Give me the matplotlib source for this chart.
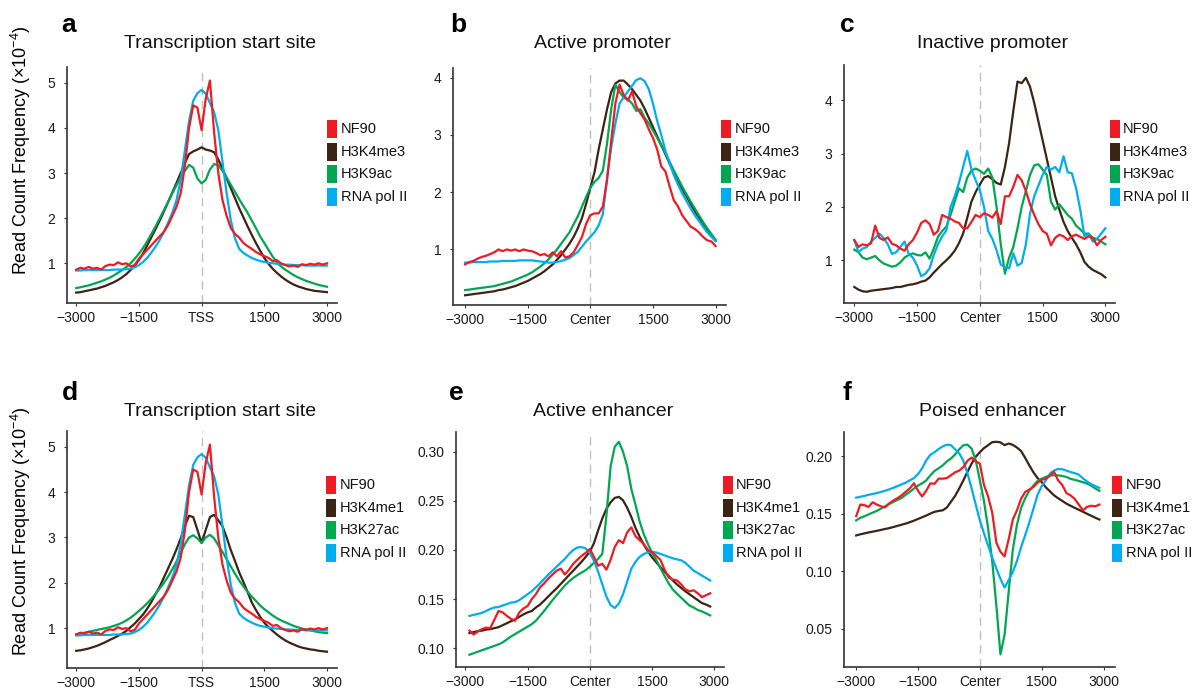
'''Aggregate read-count profiles of NF90 and chromatin marks around TSS, promoters and enhancers (panels a-f).'''

import numpy as np
import matplotlib
matplotlib.use('Agg')
import matplotlib.pyplot as plt
from matplotlib.patches import Rectangle

plt.rcParams['font.family'] = 'Liberation Sans'
plt.rcParams['mathtext.fontset'] = 'custom'
plt.rcParams['mathtext.rm'] = 'Liberation Sans'
plt.rcParams['mathtext.it'] = 'Liberation Sans:italic'
plt.rcParams['mathtext.bf'] = 'Liberation Sans:bold'

# ---- data -----------------------------------------------------------------
# bin centres (bp from TSS / centre)
x_prom = np.arange(-3000, 3001, 100)     # panels a-d
x_enh = np.arange(-2900, 2901, 100)      # panel e
x_poised = np.arange(-3000, 2901, 100)   # panel f

# a / d : transcription start site (x1e-4)
tss_nf90 = [0.86, 0.90, 0.88, 0.92, 0.88, 0.90, 0.86, 0.94, 0.97, 0.96,
            1.02, 0.98, 1.00, 0.93, 0.96, 1.10, 1.20, 1.30, 1.40, 1.50,
            1.60, 1.70, 1.85, 2.05, 2.25, 2.55, 3.15, 4.00, 4.50, 4.45,
            3.95,
            4.65, 5.05, 3.90, 3.00, 2.40, 2.05, 1.78, 1.65, 1.57, 1.45,
            1.38, 1.32, 1.25, 1.20, 1.16, 1.12, 1.05, 1.07, 1.00, 0.96,
            0.93, 0.95, 0.92, 0.98, 0.96, 0.99, 0.97, 1.00, 0.97, 1.00]
tss_pol2 = [0.84, 0.84, 0.85, 0.85, 0.85, 0.85, 0.85, 0.85, 0.85, 0.86,
            0.86, 0.86, 0.87, 0.88, 0.91, 0.96, 1.03, 1.12, 1.24, 1.37,
            1.52, 1.70, 1.90, 2.12, 2.40, 2.85, 3.50, 4.15, 4.60, 4.77,
            4.84,
            4.76, 4.55, 4.35, 3.95, 3.25, 2.55, 1.95, 1.55, 1.32, 1.23,
            1.17, 1.12, 1.08, 1.05, 1.03, 1.01, 1.00, 0.99, 0.98, 0.97,
            0.97, 0.96, 0.96, 0.96, 0.95, 0.95, 0.95, 0.95, 0.95, 0.95]
tss_h3k4me3 = [0.35, 0.36, 0.38, 0.40, 0.42, 0.44, 0.47, 0.50, 0.54, 0.58,
               0.63, 0.69, 0.76, 0.85, 0.95, 1.07, 1.22, 1.40, 1.58, 1.76,
               1.95, 2.15, 2.36, 2.57, 2.78, 3.00, 3.22, 3.42, 3.48, 3.52,
               3.57,
               3.52, 3.50, 3.46, 3.30, 3.10, 2.88, 2.66, 2.44, 2.22, 2.02,
               1.82, 1.63, 1.45, 1.28, 1.12, 0.99, 0.88, 0.79, 0.71, 0.64,
               0.58, 0.53, 0.49, 0.46, 0.43, 0.41, 0.39, 0.38, 0.37, 0.36]
tss_h3k9ac = [0.45, 0.47, 0.49, 0.51, 0.54, 0.57, 0.60, 0.64, 0.68, 0.73,
              0.79, 0.85, 0.92, 1.00, 1.10, 1.21, 1.34, 1.49, 1.65, 1.82,
              2.00, 2.18, 2.36, 2.55, 2.73, 2.90, 3.05, 3.18, 3.12, 2.88,
              2.77,
              2.85, 3.08, 3.20, 3.17, 3.05, 2.90, 2.74, 2.58, 2.42, 2.27,
              2.12, 1.95, 1.78, 1.60, 1.45, 1.30, 1.15, 1.02, 0.93, 0.86,
              0.80, 0.74, 0.69, 0.65, 0.61, 0.58, 0.55, 0.52, 0.50, 0.48]
tss_h3k4me1 = [0.50, 0.51, 0.53, 0.55, 0.58, 0.61, 0.65, 0.69, 0.74, 0.78,
               0.83, 0.88, 0.94, 1.02, 1.10, 1.20, 1.30, 1.43, 1.58, 1.75,
               1.92, 2.12, 2.32, 2.52, 2.74, 2.98, 3.25, 3.48, 3.45, 3.17,
               2.88,
               3.17, 3.45, 3.50, 3.38, 3.25, 3.00, 2.72, 2.48, 2.23, 2.02,
               1.80, 1.57, 1.40, 1.25, 1.12, 1.02, 0.94, 0.86, 0.79, 0.73,
               0.68, 0.64, 0.60, 0.57, 0.55, 0.53, 0.52, 0.50, 0.49, 0.48]
tss_h3k27ac = [0.86, 0.88, 0.90, 0.92, 0.94, 0.96, 0.98, 1.00, 1.02, 1.05,
               1.08, 1.12, 1.17, 1.23, 1.30, 1.38, 1.46, 1.55, 1.65, 1.76,
               1.88, 2.00, 2.14, 2.30, 2.47, 2.66, 2.85, 3.00, 3.05, 2.98,
               2.88,
               3.00, 3.06, 2.98, 2.83, 2.68, 2.52, 2.36, 2.20, 2.05, 1.92,
               1.80, 1.70, 1.60, 1.50, 1.42, 1.35, 1.28, 1.22, 1.17, 1.13,
               1.09, 1.05, 1.02, 0.99, 0.97, 0.95, 0.93, 0.91, 0.90, 0.89]

# b : active promoter
act_nf90 = [0.74, 0.78, 0.80, 0.84, 0.87, 0.89, 0.92, 0.95, 1.00, 0.97,
            1.00, 0.98, 1.00, 0.97, 1.00, 0.98, 0.97, 0.94, 0.90, 0.92,
            0.88, 0.95, 0.88, 0.97, 0.86, 0.88, 0.95, 1.08, 1.22, 1.45,
            1.60,
            1.63, 1.63, 1.75, 2.21, 2.90, 3.55, 3.88, 3.70, 3.60, 3.76,
            3.50, 3.38, 3.27, 3.10, 2.95, 2.75, 2.45, 2.36, 2.10, 1.86,
            1.75, 1.60, 1.50, 1.40, 1.36, 1.30, 1.22, 1.16, 1.14, 1.06]
act_h3k4me3 = [0.20, 0.21, 0.22, 0.23, 0.24, 0.25, 0.26, 0.27, 0.29, 0.30,
               0.32, 0.34, 0.36, 0.39, 0.42, 0.45, 0.49, 0.53, 0.57, 0.62,
               0.68, 0.74, 0.82, 0.90, 1.00, 1.10, 1.22, 1.37, 1.55, 1.80,
               2.08,
               2.35, 2.75, 3.10, 3.45, 3.75, 3.90, 3.95, 3.95, 3.88, 3.80,
               3.70, 3.60, 3.46, 3.30, 3.14, 2.98, 2.82, 2.66, 2.50, 2.34,
               2.20, 2.06, 1.93, 1.80, 1.67, 1.56, 1.45, 1.34, 1.24, 1.15]
act_h3k9ac = [0.29, 0.30, 0.31, 0.32, 0.33, 0.34, 0.35, 0.36, 0.38, 0.40,
              0.42, 0.44, 0.47, 0.50, 0.53, 0.56, 0.60, 0.65, 0.70, 0.76,
              0.83, 0.91, 1.00, 1.10, 1.20, 1.30, 1.44, 1.58, 1.75, 1.92,
              2.08,
              2.18, 2.25, 2.38, 2.85, 3.45, 3.88, 3.75, 3.65, 3.62, 3.55,
              3.42, 3.45, 3.30, 3.20, 3.08, 2.95, 2.82, 2.68, 2.53, 2.38,
              2.24, 2.10, 1.97, 1.84, 1.72, 1.60, 1.48, 1.37, 1.27, 1.17]
act_pol2 = [0.77, 0.77, 0.78, 0.78, 0.78, 0.78, 0.79, 0.79, 0.79, 0.80,
            0.80, 0.80, 0.80, 0.81, 0.81, 0.81, 0.81, 0.80, 0.79, 0.78,
            0.77, 0.77, 0.78, 0.80, 0.82, 0.85, 0.90, 0.96, 1.05, 1.14,
            1.22,
            1.30, 1.42, 1.62, 2.25, 2.78, 3.20, 3.55, 3.66, 3.76, 3.86,
            3.96, 3.99, 3.94, 3.80, 3.55, 3.25, 3.00, 2.72, 2.50, 2.30,
            2.13, 1.98, 1.85, 1.72, 1.60, 1.50, 1.40, 1.30, 1.22, 1.15]

# c : inactive promoter
inact_nf90 = [1.38, 1.25, 1.30, 1.28, 1.32, 1.65, 1.42, 1.38, 1.43, 1.31,
              1.28, 1.22, 1.18, 1.30, 1.38, 1.52, 1.70, 1.75, 1.68, 1.48,
              1.55, 1.85, 1.81, 1.78, 1.73, 1.70, 1.60, 1.60, 1.72, 1.85,
              1.81,
              1.88, 1.85, 1.80, 1.92, 1.68, 2.20, 2.20, 2.38, 2.60, 2.50,
              2.30, 2.05, 1.85, 1.68, 1.55, 1.50, 1.28, 1.42, 1.48, 1.45,
              1.38, 1.45, 1.48, 1.44, 1.40, 1.45, 1.42, 1.28, 1.38, 1.44]
inact_h3k4me3 = [0.50, 0.45, 0.42, 0.41, 0.43, 0.44, 0.45, 0.46, 0.47, 0.48,
                 0.50, 0.50, 0.52, 0.54, 0.55, 0.57, 0.60, 0.62, 0.68, 0.77,
                 0.85, 0.93, 1.00, 1.08, 1.18, 1.32, 1.50, 1.80, 2.10, 2.28,
                 2.42,
                 2.55, 2.58, 2.52, 2.45, 2.42, 2.75, 3.20, 3.80, 4.35, 4.32,
                 4.42, 4.25, 3.95, 3.60, 3.25, 2.90, 2.55, 2.20, 1.95, 1.72,
                 1.55, 1.42, 1.30, 1.15, 0.97, 0.88, 0.82, 0.78, 0.74, 0.68]
inact_h3k9ac = [1.20, 1.15, 1.05, 1.02, 1.05, 1.08, 1.00, 0.94, 0.91, 0.88,
                0.90, 0.96, 1.05, 1.10, 1.13, 1.10, 1.09, 1.15, 1.03, 1.22,
                1.44, 1.55, 1.63, 1.85, 2.10, 2.35, 2.28, 2.55, 2.68, 2.72,
                2.68,
                2.62, 2.72, 2.55, 2.00, 1.30, 0.75, 1.05, 1.25, 1.60, 2.00,
                2.30, 2.60, 2.78, 2.80, 2.70, 2.60, 2.10, 1.95, 2.05, 1.95,
                1.85, 1.78, 1.65, 1.58, 1.50, 1.50, 1.42, 1.40, 1.35, 1.30]
inact_pol2 = [1.38, 1.15, 1.22, 1.25, 1.35, 1.42, 1.50, 1.42, 1.30, 1.12,
              1.15, 1.25, 1.35, 1.12, 1.05, 0.90, 0.70, 0.75, 0.85, 1.10,
              1.30, 1.45, 1.56, 2.00, 2.20, 2.45, 2.75, 3.05, 2.70, 2.50,
              2.31,
              2.00, 1.55, 1.40, 1.19, 0.92, 0.87, 0.85, 1.13, 0.90, 0.95,
              1.30, 1.88, 2.20, 2.40, 2.60, 2.75, 2.70, 2.75, 2.65, 2.95,
              2.65, 2.63, 2.35, 1.95, 1.45, 1.50, 1.35, 1.40, 1.50, 1.60]

# e : active enhancer
enh_nf90 = [0.118, 0.114, 0.117, 0.1195, 0.121, 0.1205, 0.129, 0.138, 0.1365, 0.133,
            0.130, 0.128, 0.1365, 0.1405, 0.143, 0.150, 0.155, 0.162, 0.166, 0.171,
            0.175, 0.179, 0.181, 0.175, 0.180, 0.186, 0.190, 0.194, 0.197, 0.201,
            0.193, 0.184, 0.186, 0.180, 0.190, 0.203, 0.210, 0.207, 0.218, 0.223,
            0.214, 0.210, 0.206, 0.200, 0.198, 0.194, 0.190, 0.180, 0.172, 0.170,
            0.169, 0.165, 0.160, 0.158, 0.159, 0.156, 0.152, 0.154, 0.156]
enh_h3k4me1 = [0.1155, 0.1165, 0.1175, 0.118, 0.119, 0.1195, 0.1205, 0.1215, 0.1235, 0.1255,
               0.1275, 0.1295, 0.132, 0.1345, 0.1365, 0.138, 0.1415, 0.1445, 0.1485, 0.1528,
               0.157, 0.161, 0.1655, 0.170, 0.1745, 0.179, 0.1835, 0.188, 0.193, 0.1983,
               0.207, 0.220, 0.232, 0.242, 0.2485, 0.253, 0.254, 0.2505, 0.243, 0.2335,
               0.2225, 0.2135, 0.2055, 0.1985, 0.1925, 0.1875, 0.1825, 0.178, 0.1735, 0.169,
               0.165, 0.1615, 0.158, 0.155, 0.152, 0.149, 0.146, 0.1445, 0.1425]
enh_h3k27ac = [0.0935, 0.095, 0.0965, 0.098, 0.0995, 0.101, 0.1025, 0.104, 0.106, 0.109,
               0.112, 0.1145, 0.117, 0.1195, 0.122, 0.1245, 0.128, 0.133, 0.138, 0.1435,
               0.149, 0.154, 0.159, 0.164, 0.168, 0.1715, 0.1745, 0.177, 0.1795, 0.183,
               0.187, 0.191, 0.196, 0.235, 0.285, 0.305, 0.310, 0.300, 0.285, 0.262,
               0.246, 0.229, 0.216, 0.206, 0.197, 0.190, 0.1815, 0.1735, 0.166, 0.1597,
               0.1555, 0.1515, 0.1475, 0.1435, 0.1415, 0.139, 0.1375, 0.1355, 0.1335]
enh_pol2 = [0.133, 0.134, 0.135, 0.136, 0.138, 0.140, 0.1415, 0.142, 0.1435, 0.145,
            0.1465, 0.147, 0.149, 0.152, 0.155, 0.158, 0.162, 0.166, 0.1705, 0.175,
            0.179, 0.183, 0.187, 0.191, 0.196, 0.200, 0.2025, 0.203, 0.2015, 0.197,
            0.189, 0.178, 0.165, 0.1525, 0.144, 0.141, 0.1455, 0.155, 0.168, 0.181,
            0.188, 0.193, 0.196, 0.1975, 0.198, 0.1975, 0.196, 0.1945, 0.193, 0.1915,
            0.1905, 0.1895, 0.187, 0.183, 0.179, 0.1765, 0.174, 0.1715, 0.169]

# f : poised enhancer
poised_nf90 = [0.148, 0.158, 0.1575, 0.156, 0.160, 0.158, 0.1565, 0.1555, 0.159, 0.1615,
               0.1635, 0.166, 0.169, 0.172, 0.1765, 0.170, 0.165, 0.170, 0.1765, 0.176,
               0.1805, 0.1805, 0.181, 0.1835, 0.186, 0.1875, 0.1905, 0.196, 0.1988, 0.1955,
               0.1936, 0.175, 0.165, 0.151, 0.125, 0.117, 0.113, 0.128, 0.145, 0.153,
               0.163, 0.169, 0.171, 0.1733, 0.177, 0.1795, 0.1805, 0.183, 0.1864, 0.179,
               0.175, 0.168, 0.166, 0.163, 0.158, 0.153, 0.156, 0.157, 0.1565, 0.158]
poised_h3k4me1 = [0.1312, 0.1322, 0.133, 0.1338, 0.1345, 0.1352, 0.136, 0.1368, 0.1375, 0.1385,
                  0.1395, 0.1405, 0.1415, 0.1427, 0.144, 0.1455, 0.147, 0.1485, 0.1502, 0.1517,
                  0.1525, 0.153, 0.1555, 0.1605, 0.1655, 0.172, 0.179, 0.1865, 0.1935, 0.1995,
                  0.2035, 0.207, 0.2095, 0.2122, 0.2125, 0.212, 0.2096, 0.211, 0.2098, 0.2075,
                  0.2045, 0.1985, 0.192, 0.186, 0.181, 0.1775, 0.173, 0.1695, 0.166, 0.1635,
                  0.1612, 0.1588, 0.157, 0.1552, 0.1535, 0.1518, 0.150, 0.1483, 0.1466, 0.145]
poised_h3k27ac = [0.1443, 0.1465, 0.1478, 0.1495, 0.151, 0.1525, 0.1545, 0.1565, 0.1585, 0.1603,
                  0.162, 0.1638, 0.1665, 0.169, 0.1718, 0.1745, 0.1765, 0.179, 0.1834, 0.1872,
                  0.1895, 0.192, 0.1955, 0.198, 0.2015, 0.206, 0.2095, 0.210, 0.2065, 0.1965,
                  0.1791, 0.161, 0.1375, 0.109, 0.0705, 0.028, 0.045, 0.0825, 0.119, 0.1405,
                  0.155, 0.1635, 0.170, 0.1745, 0.1785, 0.1805, 0.182, 0.1834, 0.1834, 0.1834,
                  0.1828, 0.182, 0.1803, 0.1795, 0.1785, 0.1774, 0.1762, 0.1745, 0.172, 0.170]
poised_pol2 = [0.164, 0.1648, 0.1655, 0.1665, 0.1672, 0.168, 0.169, 0.170, 0.1712, 0.1725,
               0.174, 0.1755, 0.177, 0.179, 0.181, 0.1845, 0.1895, 0.1965, 0.2012, 0.2035,
               0.2062, 0.2085, 0.210, 0.2095, 0.206, 0.2025, 0.196, 0.185, 0.172, 0.158,
               0.1443, 0.133, 0.1225, 0.112, 0.1025, 0.0935, 0.086, 0.0925, 0.0995, 0.109,
               0.121, 0.1315, 0.1425, 0.1545, 0.1665, 0.174, 0.179, 0.1849, 0.1875, 0.189,
               0.1886, 0.1875, 0.1862, 0.1853, 0.184, 0.1808, 0.178, 0.1757, 0.174, 0.1725]

x_ticks = [-3000, -1500, 0, 1500, 3000]
promoter_labels = ['NF90', 'H3K4me3', 'H3K9ac', 'RNA pol II']
enhancer_labels = ['NF90', 'H3K4me1', 'H3K27ac', 'RNA pol II']

# colours: NF90, histone mark 1, histone mark 2, pol II
COLORS = ['#ED1C24', '#3C2415', '#00A651', '#00AEEF']
DRAW_ORDER = [1, 2, 3, 0]

W, H = 1196, 691


def px_axes(fig, left, top, right, bottom):
    # axes box given in pixels measured from the top-left corner
    return fig.add_axes([left / W, 1 - bottom / H, (right - left) / W, (bottom - top) / H])


def draw_panel(fig, box, x, series, labels, title, letter, center, ylim, yticks, yfmt,
               xlim, title_pos, letter_pos, legend_pos):
    ax = px_axes(fig, *box)
    ax.axvline(0, color='#c0c0c0', lw=1.0, ls=(0, (6, 4)), zorder=1)
    for i in DRAW_ORDER:
        ax.plot(x, series[i], color=COLORS[i], lw=1.6, solid_joinstyle='round', zorder=2)

    ax.set_xlim(*xlim)
    ax.set_ylim(*ylim)
    ax.set_xticks(x_ticks)
    ax.set_xticklabels(['\u22123000', '\u22121500', center, '1500', '3000'])
    ax.set_yticks(yticks)
    ax.set_yticklabels([yfmt.format(v) for v in yticks])

    for side in ['top', 'right']:
        ax.spines[side].set_visible(False)
    for side in ['left', 'bottom']:
        ax.spines[side].set_color('#333333')
        ax.spines[side].set_linewidth(1.2)
    ax.tick_params(axis='both', direction='out', length=2.5, width=0.8, color='#333333',
                   labelsize=10, labelcolor='#1a1a1a')
    ax.tick_params(axis='y', pad=6)
    ax.tick_params(axis='x', pad=3)

    fig.text(title_pos[0] / W, 1 - title_pos[1] / H, title, fontsize=14,
             ha='center', va='baseline', color='#111111')
    fig.text(letter_pos[0] / W, 1 - letter_pos[1] / H, letter, fontsize=19,
             fontweight='bold', ha='center', va='baseline')

    # legend: coloured blocks + names
    px, tx, y0 = legend_pos
    for i, lab in enumerate(labels):
        yc = y0 + i * 22.6
        fig.add_artist(Rectangle((px / W, 1 - (yc + 9) / H), 9.5 / W, 18 / H,
                                 transform=fig.transFigure, facecolor=COLORS[i],
                                 edgecolor='none'))
        fig.text(tx / W, 1 - yc / H, lab, fontsize=10.5, ha='left', va='center',
                 color='#111111')
    return ax


def main():
    fig = plt.figure(figsize=(W / 100, H / 100), dpi=100)

    tss_top = [tss_nf90, tss_h3k4me3, tss_h3k9ac, tss_pol2]
    act = [act_nf90, act_h3k4me3, act_h3k9ac, act_pol2]
    inact = [inact_nf90, inact_h3k4me3, inact_h3k9ac, inact_pol2]
    tss_bottom = [tss_nf90, tss_h3k4me1, tss_h3k27ac, tss_pol2]
    enh = [enh_nf90, enh_h3k4me1, enh_h3k27ac, enh_pol2]
    poised = [poised_nf90, poised_h3k4me1, poised_h3k27ac, poised_pol2]

    draw_panel(fig, (67, 67, 337, 303), x_prom, tss_top, promoter_labels,
               'Transcription start site', 'a', 'TSS', (0.12, 5.35), [1, 2, 3, 4, 5], '{:g}',
               (-3220, 3240), (220, 48), (69, 32), (327, 341, 129))
    draw_panel(fig, (453, 68, 726, 305), x_prom, act, promoter_labels,
               'Active promoter', 'b', 'Center', (0.03, 4.17), [1, 2, 3, 4], '{:g}',
               (-3290, 3250), (602, 48), (458, 32), (721, 735, 129))
    draw_panel(fig, (844, 65, 1115, 303), x_prom, inact, promoter_labels,
               'Inactive promoter', 'c', 'Center', (0.2, 4.66), [1, 2, 3, 4], '{:g}',
               (-3246, 3230), (993, 48), (847, 32), (1110, 1123, 129))
    draw_panel(fig, (67, 431, 337, 668), x_prom, tss_bottom, enhancer_labels,
               'Transcription start site', 'd', 'TSS', (0.12, 5.35), [1, 2, 3, 4, 5], '{:g}',
               (-3220, 3240), (220, 416), (70, 400), (326, 340, 485))
    draw_panel(fig, (456, 432, 724, 667), x_enh, enh, enhancer_labels,
               'Active enhancer', 'e', 'Center', (0.081, 0.320),
               [0.10, 0.15, 0.20, 0.25, 0.30], '{:.2f}',
               (-3224, 3232), (603, 416), (456, 400), (723, 736, 485))
    draw_panel(fig, (844, 432, 1115, 667), x_poised, poised, enhancer_labels,
               'Poised enhancer', 'f', 'Center', (0.017, 0.221),
               [0.05, 0.10, 0.15, 0.20], '{:.2f}',
               (-3296, 3279), (993, 416), (847, 400), (1112, 1126, 485))

    # shared y labels
    ylab = 'Read Count Frequency (\u00d710$^{-4}$)'
    fig.text(21 / W, 1 - 150 / H, ylab, fontsize=13, rotation=90, ha='center', va='center')
    fig.text(21 / W, 1 - 531 / H, ylab, fontsize=13, rotation=90, ha='center', va='center')

    fig.savefig('out.png', dpi=100)


if __name__ == "__main__":
    main()
